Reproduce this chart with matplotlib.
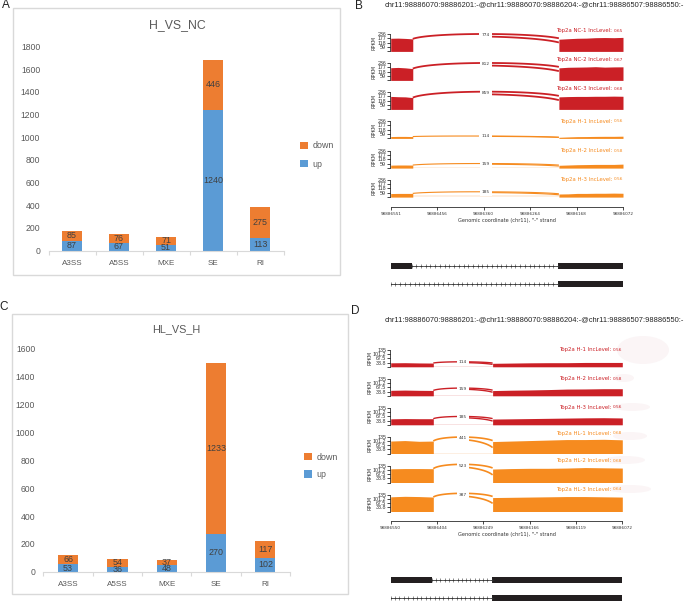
import numpy as np
import matplotlib
matplotlib.use("Agg")
import matplotlib.pyplot as plt
from matplotlib.patches import Rectangle, Ellipse

W, H = 685, 602

plt.rcParams['font.family'] = ['Liberation Sans', 'DejaVu Sans']

# bar panels
categories = ["A3SS", "A5SS", "MXE", "SE", "RI"]
a_up = [87, 67, 51, 1240, 113]
a_down = [85, 76, 71, 446, 275]
c_up = [53, 36, 48, 270, 102]
c_down = [66, 54, 37, 1233, 117]

# sashimi panel B
b_names = ["Top2a NC-1", "Top2a NC-2", "Top2a NC-3", "Top2a H-1", "Top2a H-2", "Top2a H-3"]
b_inc = ["0.65", "0.67", "0.68", "0.56", "0.58", "0.56"]
b_counts = ["774", "812", "859", "114", "159", "185"]
b_left = [[178, 180, 176, 170], [172, 176, 170, 160], [176, 172, 170, 160],
          [25, 27, 27, 25], [40, 42, 42, 41], [48, 50, 50, 50]]
b_right = [[165, 172, 178, 180, 186, 188, 186, 190], [170, 178, 180, 182, 186, 180, 183, 184],
           [170, 174, 176, 176, 178, 178, 180, 178], [15, 20, 24, 25, 27, 28, 28, 30],
           [38, 42, 46, 48, 50, 50, 50, 54], [42, 44, 50, 50, 52, 52, 54, 52]]
b_top = [236, 236, 240, 32, 62, 72]
b_end = [178, 185, 185, 20, 40, 46]
b_intron = [3, 3, 3, 3, 18, 22]
b_ticks = [59, 118, 177, 236]
b_xticks = ["98886551", "98886456", "98886360", "98886264", "98886168", "98886072"]
b_exon_end = 0.475
b_exon_start = 3.62

# sashimi panel D
d_names = ["Top2a H-1", "Top2a H-2", "Top2a H-3", "Top2a HL-1", "Top2a HL-2", "Top2a HL-3"]
d_inc = ["0.56", "0.58", "0.56", "0.68", "0.68", "0.64"]
d_counts = ["114", "159", "185", "441", "523", "387"]
d_left = [[32, 33, 31, 30], [44, 46, 44, 43], [48, 50, 49, 49],
          [100, 104, 98, 100], [110, 112, 112, 111], [118, 122, 120, 116]]
d_right = [[28, 30, 32, 33, 33, 35, 35, 35], [42, 45, 47, 50, 54, 55, 57, 57],
           [46, 48, 50, 52, 54, 56, 57, 55], [96, 100, 104, 108, 112, 112, 114, 110],
           [108, 112, 114, 114, 116, 120, 118, 116], [112, 114, 116, 118, 120, 120, 118, 116]]
d_top = [40, 62, 67, 132, 146, 146]
d_end = [28, 42, 44, 70, 90, 96]
d_intron = [3, 3, 3, 3, 3, 3]
d_ticks = [33.8, 67.5, 101.2, 135]
d_xticks = ["98886550", "98886404", "98886249", "98886166", "98886119", "98886072"]
d_exon_end = 0.92
d_exon_start = 2.2

headline = "chr11:98886070:98886201:-@chr11:98886070:98886204:-@chr11:98886507:98886550:-"

BLUE = "#5b9bd5"
ORANGE = "#ed7d31"
RED_T = "#cb2026"
ORANGE_T = "#f68b1f"


def px_axes(fig, x0, y0, x1, y1):
    # pixel box, y counted from the top
    return fig.add_axes([x0 / W, 1 - y1 / H, (x1 - x0) / W, (y1 - y0) / H])


def bar_panel(fig, box, up, down, ymax, step, title, title_xy, title_size, legend_xy):
    ax = px_axes(fig, *box)
    xs = np.arange(len(categories))
    ax.bar(xs, up, width=0.41, color=BLUE, label="up")
    ax.bar(xs, down, width=0.41, bottom=up, color=ORANGE, label="down")
    for x, u, d in zip(xs, up, down):
        ax.text(x, u / 2, str(u), ha="center", va="center", fontsize=6.4, color="#404040")
        ax.text(x, u + d / 2, str(d), ha="center", va="center", fontsize=6.4, color="#404040")
    ax.set_xlim(-0.5, 4.5)
    ax.set_ylim(0, ymax)
    ax.set_yticks(np.arange(0, ymax + 1, step))
    ax.set_xticks(xs)
    ax.set_xticklabels(categories)
    ax.set_xticks(np.arange(-0.5, 5), minor=True)
    ax.tick_params(axis="x", which="major", length=0, labelsize=5.8, labelcolor="#595959", pad=7)
    ax.tick_params(axis="x", which="minor", length=3, color="#d9d9d9", width=0.8)
    ax.tick_params(axis="y", length=0, labelsize=6.2, labelcolor="#595959", pad=6)
    for s in ["top", "right", "left"]:
        ax.spines[s].set_visible(False)
    ax.spines["bottom"].set_color("#d9d9d9")
    ax.patch.set_alpha(0)
    h, l = ax.get_legend_handles_labels()
    ax.legend(h[::-1], l[::-1], frameon=False, fontsize=6.4, labelcolor="#595959",
              loc="center left", bbox_to_anchor=(legend_xy[0] / W, 1 - legend_xy[1] / H),
              bbox_transform=fig.transFigure, handlelength=0.9, handleheight=0.9,
              handletextpad=0.5, labelspacing=legend_xy[2], borderpad=0, borderaxespad=0)
    fig.text(title_xy[0] / W, 1 - title_xy[1] / H, title, ha="center", va="center",
             fontsize=title_size, color="#595959")


def sashimi_track(fig, box, left, right, top, end, intron, count, name, inc, color, ticks,
                  ymax, xlo, xhi, lw, label_y):
    ax = px_axes(fig, *box)
    xl = np.linspace(0, xlo, len(left))
    xr = np.linspace(xhi, 5, len(right))
    ax.fill_between(xl, 0, left, color=color, lw=0)
    ax.fill_between(xr, 0, right, color=color, lw=0)
    ax.fill_between([xlo, xhi], 0, intron, color=color, alpha=0.13, lw=0)

    # junction arcs, two ends close together on the right exon
    t = np.linspace(0, 1, 80)
    span = xhi - xlo
    y0 = left[-1]
    for k, (y3, peak) in enumerate([(right[0] * 1.08, top), (end * 0.68, top * 0.86)]):
        c = (8 * peak - y0 - y3) / 6
        bx = (1-t)**3 * xlo + 3*(1-t)**2*t * (xlo + 0.12*span) + 3*(1-t)*t**2 * (xhi - 0.2*span) + t**3 * xhi
        by = (1-t)**3 * y0 + 3*(1-t)**2*t * c + 3*(1-t)*t**2 * c + t**3 * y3
        keep = t >= 0 if k == 0 else t > 0.5
        ax.plot(bx[keep], by[keep], color=color, lw=lw, clip_on=False, solid_capstyle="butt")
    mid = (xlo + xhi) / 2
    ax.text(mid, top * 0.93, count, ha="center", va="center", fontsize=3.1, color="#333333",
            family="DejaVu Sans", clip_on=False, zorder=5,
            bbox=dict(facecolor="white", edgecolor="none", pad=1.6))

    ax.set_xlim(0, 5)
    ax.set_ylim(0, ymax)
    ax.set_xticks([])
    ax.set_yticks([0] + ticks)
    ax.set_yticklabels([""] + [str(v) for v in ticks], family="DejaVu Sans")
    ax.tick_params(axis="y", length=2, width=0.5, labelsize=3.8, pad=0.8, labelcolor="#333333")
    for s in ["top", "right", "bottom"]:
        ax.spines[s].set_visible(False)
    ax.spines["left"].set_linewidth(0.5)
    ax.spines["left"].set_position(("outward", 0.5))
    ax.patch.set_alpha(0)
    ax.set_ylabel("RPKM", fontsize=3.6, family="DejaVu Sans", color="#333333", labelpad=0.5)

    fig.text(box[2] / W, 1 - label_y / H, inc, ha="right", va="center", fontsize=3.1,
             color=color, family="DejaVu Sans")
    fig.text((box[2] - 11) / W, 1 - label_y / H, name + " IncLevel:", ha="right", va="center",
             fontsize=3.9, color=color, family="DejaVu Sans")


def coord_axis(fig, x0, x1, y, labels, xlabel):
    ax = px_axes(fig, x0, y - 1, x1, y)
    ax.set_xlim(0, 5)
    ax.set_yticks([])
    ax.set_xticks(range(6))
    ax.set_xticklabels(labels, family="DejaVu Sans")
    ax.tick_params(axis="x", length=2, width=0.5, labelsize=3, pad=1.5, labelcolor="#333333")
    for s in ["top", "left", "right"]:
        ax.spines[s].set_visible(False)
    ax.spines["bottom"].set_linewidth(0.5)
    ax.patch.set_alpha(0)
    ax.set_xlabel(xlabel, fontsize=3.6, family="DejaVu Sans", color="#333333", labelpad=1.5)


def gene_model(fig, x0, x1, y, spans, nmarks):
    ax = px_axes(fig, x0, y - 4, x1, y + 4)
    ax.set_xlim(0, 5)
    ax.set_ylim(-1, 1)
    ax.axis("off")
    ax.plot([0 if len(spans) == 1 else spans[0][1], spans[-1][0]], [0, 0], color="#333333", lw=0.5)
    start = 0 if len(spans) == 1 else spans[0][1]
    ax.plot(np.linspace(start, spans[-1][0], nmarks), np.zeros(nmarks), "+", color="#333333",
            ms=2.4, mew=0.4)
    for a, b in spans:
        ax.add_patch(Rectangle((a, -0.75), b - a, 1.5, color="#231f20", lw=0))


fig = plt.figure(figsize=(W / 100, H / 100), dpi=100)

# page layer for frames, smudges and letters
bg = fig.add_axes([0, 0, 1, 1], zorder=-1)
bg.set_xlim(0, W)
bg.set_ylim(H, 0)
bg.axis("off")
bg.add_patch(Rectangle((13.5, 7.5), 327, 267, fc="white", ec="#d9d9d9", lw=1))
bg.add_patch(Rectangle((12.5, 313.5), 336, 280, fc="white", ec="#d9d9d9", lw=1))
bg.add_patch(Ellipse((643, 350), 52, 28, fc="#fbf5f6", ec="none"))
for cx, cy, w in [(624, 378, 20), (632, 407, 36), (630, 436, 34), (625, 460, 40), (630, 489, 42)]:
    bg.add_patch(Ellipse((cx, cy), w, 8, fc="#fbf5f6", ec="none"))
for letter, x, y in [("A", 6, 5), ("B", 359, 6), ("C", 4, 307), ("D", 355, 311)]:
    bg.text(x, y, letter, ha="center", va="center", fontsize=8.5, color="#222222")

bar_panel(fig, (48.5, 46.7, 283.5, 250.5), a_up, a_down, 1800, 200, "H_VS_NC", (177, 25), 8.8, (300, 155, 1.05))
bar_panel(fig, (43.5, 349, 290, 571.7), c_up, c_down, 1600, 200, "HL_VS_H", (176, 329), 7.8, (304, 466, 0.95))

# panel B tracks
b_tops = [34, 63, 92, 121, 150.7, 179.7]
b_label = [30.7, 59.7, 88.7, 121.5, 150.7, 179.5]
for i in range(6):
    col = RED_T if i < 3 else ORANGE_T
    sashimi_track(fig, (390.7, b_tops[i], 623, b_tops[i] + 17.4), b_left[i], b_right[i], b_top[i],
                  b_end[i], b_intron[i], b_counts[i], b_names[i], b_inc[i], col, b_ticks, 236,
                  b_exon_end, b_exon_start, 1.3 if i < 3 else 0.8, b_label[i])
coord_axis(fig, 390.7, 623, 206.7, b_xticks, 'Genomic coordinate (chr11), "-" strand')
gene_model(fig, 390.7, 623, 266, [(0, 0.45), (3.6, 5)], 32)
gene_model(fig, 390.7, 623, 284.3, [(3.6, 5)], 36)

# panel D tracks
d_tops = [350, 379, 408, 436.7, 465.7, 494.7]
d_label = [350, 378.5, 407.5, 433.5, 460.5, 489.5]
for i in range(6):
    col = RED_T if i < 3 else ORANGE_T
    sashimi_track(fig, (390.7, d_tops[i], 622.3, d_tops[i] + 16.8), d_left[i], d_right[i], d_top[i],
                  d_end[i], d_intron[i], d_counts[i], d_names[i], d_inc[i], col, d_ticks, 135,
                  d_exon_end, d_exon_start, 1.0 if i < 3 else 1.2, d_label[i])
coord_axis(fig, 390.7, 622.3, 521, d_xticks, 'Genomic coordinate (chr11), "-" strand')
gene_model(fig, 390.7, 622.3, 580, [(0, 0.89), (2.18, 5)], 15)
gene_model(fig, 390.7, 622.3, 598, [(2.18, 5)], 24)

fig.text(534 / W, 1 - 5 / H, headline, ha="center", va="center", fontsize=5.4, color="#222222")
fig.text(534 / W, 1 - 319.7 / H, headline, ha="center", va="center", fontsize=5.4, color="#222222")

fig.savefig("out.png", dpi=100)
